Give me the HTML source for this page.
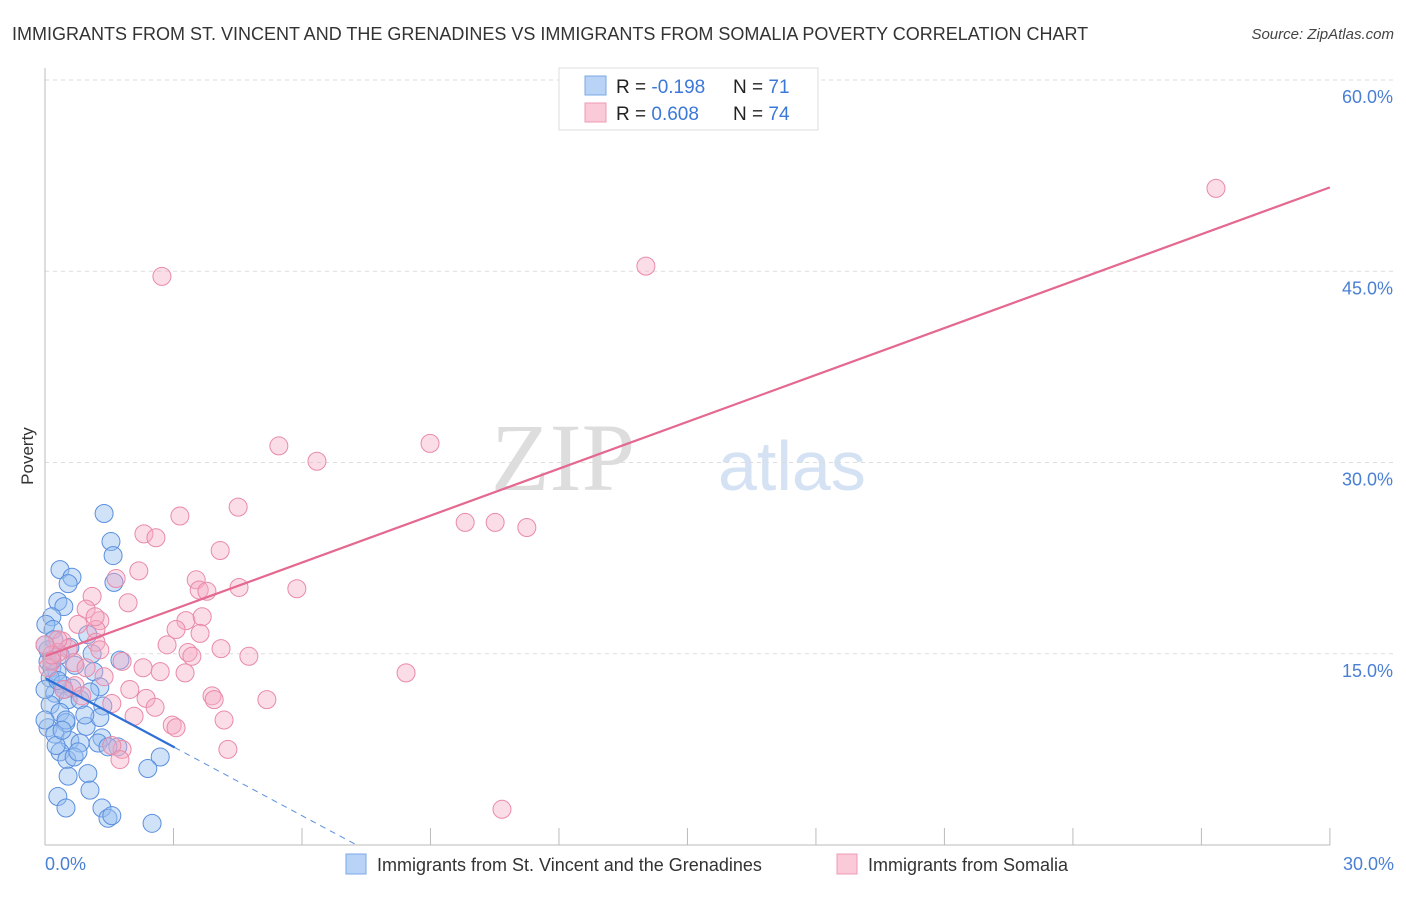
<!DOCTYPE html>
<html><head><meta charset="utf-8"><style>
body{margin:0;background:#fff;font-family:"Liberation Sans",sans-serif}
svg text{font-family:"Liberation Sans",sans-serif}
</style></head><body>
<svg id="c" width="1406" height="892">
<text x="12" y="40" font-size="18" fill="#333">IMMIGRANTS FROM ST. VINCENT AND THE GRENADINES VS IMMIGRANTS FROM SOMALIA POVERTY CORRELATION CHART</text>
<text x="1394" y="39" font-size="15" fill="#444" font-style="italic" text-anchor="end">Source: ZipAtlas.com</text>
<text x="33" y="456" font-size="17" fill="#333" transform="rotate(-90 33 456)" text-anchor="middle">Poverty</text>
<g><text x="635" y="490" font-size="96" fill="#ddd" text-anchor="end" font-family="Liberation Serif" style="font-family:'Liberation Serif',serif">ZIP</text><text x="718" y="490" font-size="70" fill="#d4e2f4">atlas</text></g>
<g id="grid"></g><g id="marks"></g><g id="lines"></g>
<line x1="45" y1="68" x2="45" y2="845" stroke="#bbb"/>
<line x1="45" y1="845" x2="1330" y2="845" stroke="#bbb"/>
<text x="45" y="870" font-size="18" fill="#4a7fd4">0.0%</text>
<text x="1394" y="870" font-size="18" fill="#4a7fd4" text-anchor="end">30.0%</text>
<g>
<rect x="559" y="68" width="259" height="62" fill="#fff" stroke="#ddd"/>
<rect x="585" y="76" width="21" height="19" fill="#b8d3f5" stroke="#7aa7e6"/>
<rect x="585" y="103" width="21" height="19" fill="#fbcad8" stroke="#ef9bb5"/>
<text x="616" y="93" font-size="19" fill="#222">R = <tspan fill="#3c78d8">-0.198</tspan></text>
<text x="733" y="93" font-size="19" fill="#222">N = <tspan fill="#3c78d8">71</tspan></text>
<text x="616" y="120" font-size="19" fill="#222">R = <tspan fill="#3c78d8"> 0.608</tspan></text>
<text x="733" y="120" font-size="19" fill="#222">N = <tspan fill="#3c78d8">74</tspan></text>
</g>
<g>
<rect x="346" y="854" width="20" height="20" fill="#b8d3f5" stroke="#7aa7e6"/>
<text x="377" y="871" font-size="18" fill="#333">Immigrants from St. Vincent and the Grenadines</text>
<rect x="837" y="854" width="20" height="20" fill="#fbcad8" stroke="#ef9bb5"/>
<text x="868" y="871" font-size="18" fill="#333">Immigrants from Somalia</text>
</g>
</svg>
<script>
const yTicks=[15,30,45,60];
const yTickLabels=["15.0%","30.0%","45.0%","60.0%"];
const xTicks=[3,6,9,12,15,18,21,24,27,30];
const blueX=[1.38,1.54,1.59,0.35,0.63,0.54,1.61,0.30,0.44,0.16,0.02,0.19,1.0,0.58,1.10,1.75,0.07,0.16,0.28,1.14,0.12,0.40,0.63,1.28,0.23,0.54,0.12,1.35,0.35,0.96,0.07,0.49,0.23,0.58,1.33,1.24,1.70,0.35,0.82,0.51,0.68,2.69,2.40,0.54,1.0,1.05,0.30,0.49,1.33,1.47,1.56,2.50,0.21,0.07,0.35,0.44,0.70,0.82,0,1.05,1.47,0.77,0,0.26,1.28,0,0.16,0.49,0.30,0.93,0.40];
const blueY=[26.0,23.8,22.7,21.6,21.0,20.5,20.6,19.1,18.7,17.9,17.3,16.9,16.5,15.5,15.0,14.5,14.4,13.9,13.6,13.6,13.1,12.6,12.3,12.4,11.9,11.4,11.0,10.9,10.4,9.3,9.2,9.6,8.7,8.2,8.4,8.0,7.7,7.3,8.0,6.7,6.9,6.9,6.0,5.4,5.6,4.3,3.8,2.9,2.9,2.1,2.3,1.7,16.1,15.3,14.9,12.2,14.1,11.4,15.7,12.0,7.7,7.3,12.2,7.8,10.0,9.8,14.5,9.8,12.9,10.2,9.0];
const pinkX=[27.34,14.03,2.73,5.46,8.99,6.35,9.81,10.51,11.25,4.51,3.15,2.31,2.59,4.09,2.19,1.66,3.53,3.60,3.78,4.53,5.88,1.94,1.10,0.96,1.28,3.29,3.67,3.06,1.19,0.77,3.62,0.40,1.19,0.54,2.85,4.11,3.34,3.43,4.76,0.30,0.16,0.68,1.80,2.29,2.69,3.27,8.43,1.38,0.70,1.98,3.90,3.95,5.18,2.36,2.57,0.86,1.56,2.08,4.18,2.97,3.06,4.27,1.80,1.56,1.75,10.67,0.07,0.30,0.44,0.16,0.96,1.28,1.17,0];
const pinkY=[51.5,45.4,44.6,31.3,31.5,30.1,25.3,25.3,24.9,26.5,25.8,24.4,24.1,23.1,21.5,20.9,20.8,20.0,19.9,20.2,20.1,19.0,19.5,18.5,17.6,17.6,17.9,16.9,16.9,17.3,16.6,16.0,15.9,15.4,15.7,15.4,15.1,14.8,14.8,15.1,14.4,14.3,14.4,13.9,13.6,13.5,13.5,13.2,12.5,12.2,11.7,11.4,11.4,11.5,10.8,11.7,11.1,10.1,9.8,9.4,9.2,7.5,7.5,7.8,6.7,2.8,13.9,16.1,12.2,14.9,13.9,15.3,17.9,15.7];
const blueFit=[13.1,-1.8];
const pinkFit=[14.8,1.226];
const NS="http://www.w3.org/2000/svg";
const sx=v=>45+v*42.83, sy=v=>845-v*12.75;
function mk(t,a,p){const e=document.createElementNS(NS,t);for(const k in a)e.setAttribute(k,a[k]);p.appendChild(e);return e;}
const grid=document.getElementById('grid'),marks=document.getElementById('marks'),lines=document.getElementById('lines');
yTicks.forEach((v,i)=>{
 const g=mk('line',{x1:45,x2:1393,y1:sy(v),y2:sy(v),stroke:'#ddd','stroke-dasharray':'4 4'},grid);
 
 
 const t=mk('text',{x:1393,y:sy(v)+23,'font-size':18,fill:'#4a7fd4','text-anchor':'end'},grid);
 t.textContent=yTickLabels[i];
 
 
});
xTicks.forEach(v=>{
 const l=mk('line',{x1:sx(v),x2:sx(v),y1:828,y2:845,stroke:'#bbb'},grid);
 
 
});
blueX.forEach((x,i)=>{
 const c=mk('circle',{cx:sx(x),cy:sy(blueY[i]),r:9,fill:'rgba(150,190,240,0.45)',stroke:'#5b8fde','stroke-width':1},marks);
 
 
});
pinkX.forEach((x,i)=>{
 const c=mk('circle',{cx:sx(x),cy:sy(pinkY[i]),r:9,fill:'rgba(245,170,195,0.4)',stroke:'#e98aa9','stroke-width':1},marks);
 
 
});
const pf=x=>pinkFit[0]+pinkFit[1]*x, bf=x=>blueFit[0]+blueFit[1]*x;
const pl=mk('line',{x1:sx(0),y1:sy(pf(0)),x2:sx(30),y2:sy(pf(30)),stroke:'#e4688f','stroke-width':2.2},lines);


const bs=3.03, bz=-blueFit[0]/blueFit[1];
const bl=mk('line',{x1:sx(0),y1:sy(bf(0)),x2:sx(bs),y2:sy(bf(bs)),stroke:'#2f6fd6','stroke-width':2.2},lines);


const bd=mk('line',{x1:sx(bs),y1:sy(bf(bs)),x2:sx(bz),y2:sy(0),stroke:'#5b8fde','stroke-width':1,'stroke-dasharray':'6 5'},lines);


</script>
</body></html>
